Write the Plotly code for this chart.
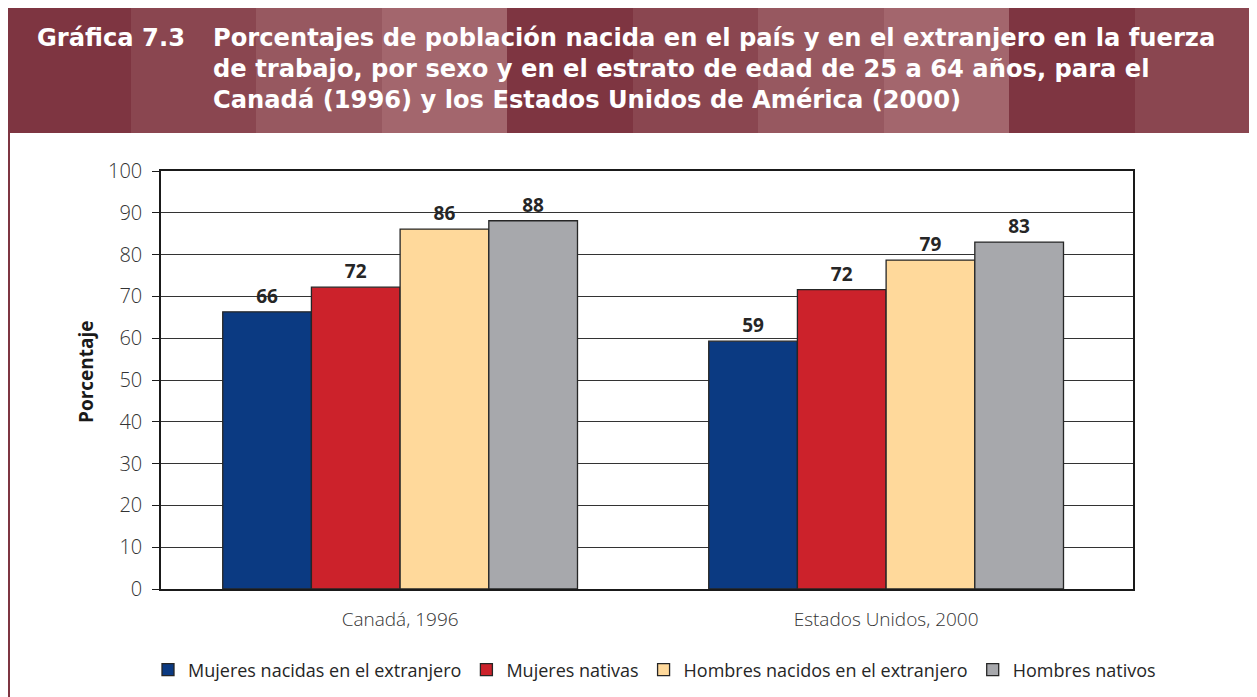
import plotly.graph_objects as go

# ---- data ----
categories = ["Canadá, 1996", "Estados Unidos, 2000"]
series_names = [
    "Mujeres nacidas en el extranjero",
    "Mujeres nativas",
    "Hombres nacidos en el extranjero",
    "Hombres nativos",
]
mujeres_extranjero = [66.3, 59.3]
mujeres_nativas = [72.2, 71.6]
hombres_extranjero = [86.1, 78.7]
hombres_nativos = [88.1, 83.0]
series_values = [mujeres_extranjero, mujeres_nativas, hombres_extranjero, hombres_nativos]
series_colors = ["#0B3A82", "#CC222B", "#FFD99B", "#A7A8AC"]
y_ticks = [0, 10, 20, 30, 40, 50, 60, 70, 80, 90, 100]

title_num = "Gráfica 7.3"
title_lines = [
    "Porcentajes de población nacida en el país y en el extranjero en la fuerza",
    "de trabajo, por sexo y en el estrato de edad de 25 a 64 años, para el",
    "Canadá (1996) y los Estados Unidos de América (2000)",
]
y_title = "Porcentaje"

# ---- layout geometry (page pixels; the page body has an 8px margin) ----
OFF = 8
W, H = 1257 - OFF, 697 - OFF
L, R, T, B = 161, 1133, 171, 589  # plot area in page pixels


def px(x):
    return (x - L) / (R - L)


def py(y):
    return (B - y) / (B - T)


fig = go.Figure()
for name, vals, col in zip(series_names, series_values, series_colors):
    fig.add_trace(go.Bar(
        x=categories, y=vals, name=name,
        marker=dict(color=col, line=dict(color="#262626", width=1.3)),
        text=vals, texttemplate="%{y:.0f}", textposition="outside",
        textfont=dict(family="Open Sans", size=19, color="#262626", weight="bold"),
        cliponaxis=False,
    ))

shapes = []
band_edges = [OFF, 131, 256, 382, 507, 633, 758, 884, 1009, 1135, 1257]
band_colors = ["#7E3541", "#8A4650", "#975860", "#A3666D"]
for i in range(len(band_edges) - 1):
    shapes.append(dict(
        type="rect", xref="paper", yref="paper", layer="below",
        x0=px(band_edges[i]), x1=px(band_edges[i + 1]),
        y0=py(133), y1=py(OFF),
        fillcolor=band_colors[i % 4], line=dict(width=0),
    ))
shapes.append(dict(
    type="rect", xref="paper", yref="paper",
    x0=px(OFF), x1=px(OFF + 2), y0=py(697), y1=py(133),
    fillcolor="#7E3541", line=dict(width=0),
))

title_font = dict(family="DejaVu Sans", size=24.2, color="white", weight="bold")
annotations = [
    dict(text=title_num, x=px(35), y=py(38), xref="paper", yref="paper",
         xanchor="left", yanchor="middle", showarrow=False, font=title_font),
]
for i, line in enumerate(title_lines):
    annotations.append(dict(
        text=line, x=px(211), y=py(38 + 31 * i), xref="paper", yref="paper",
        xanchor="left", yanchor="middle", showarrow=False, font=title_font,
    ))
annotations.append(dict(
    text=y_title, x=px(86), y=py(372), xref="paper", yref="paper",
    xanchor="center", yanchor="middle", showarrow=False, textangle=-90,
    font=dict(family="Open Sans", size=19, color="#1a1a1a", weight="bold"),
))

fig.update_layout(
    width=W, height=H,
    margin=dict(l=L - OFF, r=1257 - R, t=T - OFF, b=697 - B, pad=0, autoexpand=False),
    paper_bgcolor="white", plot_bgcolor="white",
    barmode="group", bargap=0.27, bargroupgap=0,
    showlegend=True,
    legend=dict(orientation="h", xref="paper", yref="paper",
                x=px(148), xanchor="left",
                y=py(670), yanchor="middle",
                font=dict(family="Open Sans", size=18, color="#262626"),
                itemwidth=30, tracegroupgap=0),
    shapes=shapes, annotations=annotations,
    font=dict(family="Open Sans"),
)
fig.update_xaxes(
    range=[-0.492, 1.508],
    showline=True, linecolor="#1a1a1a", linewidth=1.5, mirror=True,
    ticks="", ticklabelstandoff=12,
    tickfont=dict(family="Open Sans", size=19, color="#333333", weight=300),
    showgrid=False,
)
fig.update_yaxes(
    range=[0, 100], tickvals=y_ticks,
    showline=True, linecolor="#1a1a1a", linewidth=1.5, mirror=True,
    ticks="outside", ticklen=7, tickcolor="#1a1a1a", tickwidth=1.3,
    showgrid=True, gridcolor="#333333", gridwidth=1.2,
    tickfont=dict(family="Open Sans", size=20, color="#333333", weight=300),
    ticklabelstandoff=6, zeroline=False,
)

fig.write_html("out.html")
